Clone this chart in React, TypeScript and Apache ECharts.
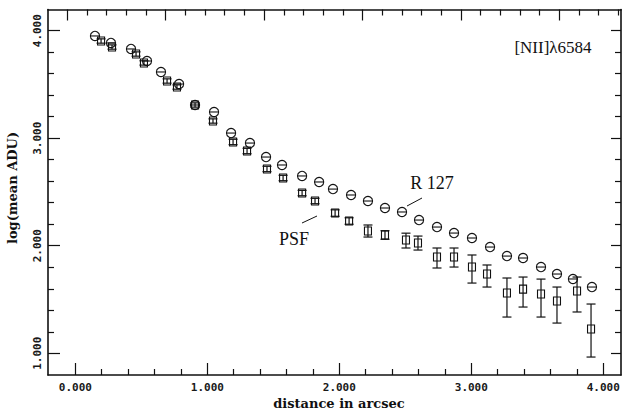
import React, { useEffect, useRef } from "react";
import * as echarts from "echarts";

// R 127 (circles)
const r127X = [0.149, 0.270, 0.422, 0.543, 0.649, 0.786, 0.907, 1.051, 1.180, 1.323, 1.445, 1.566, 1.718, 1.847, 1.952, 2.089, 2.217, 2.346, 2.475, 2.604, 2.740, 2.869, 3.005, 3.142, 3.270, 3.392, 3.528, 3.649, 3.770, 3.914];
const r127Y = [3.951, 3.886, 3.830, 3.718, 3.616, 3.504, 3.309, 3.244, 3.048, 2.955, 2.825, 2.751, 2.649, 2.593, 2.527, 2.472, 2.416, 2.351, 2.314, 2.239, 2.174, 2.118, 2.072, 1.988, 1.904, 1.886, 1.802, 1.737, 1.691, 1.616];

// PSF (squares) with error bars
const psfX = [0.195, 0.278, 0.460, 0.520, 0.695, 0.770, 0.907, 1.043, 1.195, 1.301, 1.452, 1.574, 1.718, 1.816, 1.968, 2.074, 2.217, 2.346, 2.505, 2.596, 2.740, 2.869, 3.005, 3.119, 3.270, 3.392, 3.528, 3.649, 3.801, 3.907];
const psfY = [3.904, 3.848, 3.783, 3.700, 3.532, 3.476, 3.309, 3.160, 2.965, 2.881, 2.714, 2.630, 2.490, 2.416, 2.304, 2.230, 2.137, 2.100, 2.053, 2.025, 1.895, 1.895, 1.802, 1.737, 1.560, 1.597, 1.551, 1.486, 1.579, 1.226];
const psfLow = [3.884, 3.828, 3.763, 3.680, 3.512, 3.456, 3.289, 3.140, 2.940, 2.856, 2.689, 2.605, 2.465, 2.391, 2.274, 2.200, 2.081, 2.060, 1.979, 1.960, 1.793, 1.802, 1.653, 1.616, 1.337, 1.430, 1.337, 1.281, 1.384, 0.965];
const psfHigh = [3.924, 3.868, 3.803, 3.720, 3.552, 3.496, 3.329, 3.180, 2.990, 2.906, 2.739, 2.655, 2.515, 2.441, 2.334, 2.260, 2.193, 2.140, 2.117, 2.090, 1.979, 1.979, 1.914, 1.821, 1.700, 1.709, 1.690, 1.616, 1.709, 1.458];

// Tick labels / tick positions
const xMajor = [0, 1, 2, 3, 4];
const yMajor = [1, 2, 3, 4];
const topMajor = [0, 1, 2, 3, 4, 5];

const X_MIN = -0.207, X_MAX = 4.134;
const Y_MIN = 0.798, Y_MAX = 4.197;
const T_MIN = -0.196, T_MAX = 5.627;

function minorTicks(min: number, max: number, step: number, majorStep: number) {
  const out: number[] = [];
  const start = Math.ceil(min / step);
  const end = Math.floor(max / step);
  for (let i = start; i <= end; i++) {
    const v = Math.round(i * step * 1000) / 1000;
    if (Math.abs(v / majorStep - Math.round(v / majorStep)) < 1e-6) continue;
    if (v - min < 0.02 || max - v < 0.005) continue;
    out.push(v);
  }
  return out;
}

const INK = "#111";

function axisBase(min: number, max: number) {
  return {
    type: "value",
    min,
    max,
    splitLine: { show: false },
    axisLine: { show: false, onZero: false },
    axisLabel: { show: false },
    axisTick: { show: false },
    minorTick: { show: false },
  };
}

export default function App() {
  const ref = useRef<HTMLDivElement>(null);
  useEffect(() => {
    if (!ref.current) return;
    const chart = echarts.init(ref.current, undefined, { renderer: "svg" });

    const xMinor = minorTicks(X_MIN, X_MAX, 0.2, 1);
    const yMinor = minorTicks(Y_MIN, Y_MAX, 0.2, 1);
    const tMinor = minorTicks(T_MIN, T_MAX, 0.2, 1);

    const lineStyle = { color: INK, width: 1.6 };
    const tickStyle = { color: INK, width: 1.2 };
    const labelFont = {
      fontFamily: "DejaVu Sans Mono",
      fontSize: 11,
      fontWeight: "bold",
      color: "#1a1a1a",
    };

    const option: any = {
      animation: false,
      backgroundColor: "#fff",
      grid: { left: 48, right: 2, top: 9.5, bottom: 37, containLabel: false },
      xAxis: [
        {
          ...axisBase(X_MIN, X_MAX),
          position: "bottom",
          axisLine: { show: true, onZero: false, lineStyle },
          axisTick: { show: true, inside: true, length: 12, customValues: xMajor, lineStyle: tickStyle },
          axisLabel: {
            show: true,
            customValues: xMajor,
            formatter: (v: number) => v.toFixed(3),
            margin: 7,
            ...labelFont,
          },
        },
        {
          ...axisBase(X_MIN, X_MAX),
          position: "bottom",
          axisTick: { show: true, inside: true, length: 6, customValues: xMinor, lineStyle: tickStyle },
        },
        {
          ...axisBase(T_MIN, T_MAX),
          position: "top",
          axisLine: { show: true, onZero: false, lineStyle },
          axisTick: { show: true, inside: true, length: 11, customValues: topMajor, lineStyle: tickStyle },
        },
        {
          ...axisBase(T_MIN, T_MAX),
          position: "top",
          axisTick: { show: true, inside: true, length: 6, customValues: tMinor, lineStyle: tickStyle },
        },
      ],
      yAxis: [
        {
          ...axisBase(Y_MIN, Y_MAX),
          position: "left",
          axisLine: { show: true, onZero: false, lineStyle },
          axisTick: { show: true, inside: true, length: 12, customValues: yMajor, lineStyle: tickStyle },
          axisLabel: {
            show: true,
            customValues: yMajor,
            rotate: 90,
            formatter: (v: number) => v.toFixed(3),
            margin: 5,
            ...labelFont,
          },
        },
        {
          ...axisBase(Y_MIN, Y_MAX),
          position: "left",
          axisTick: { show: true, inside: true, length: 6, customValues: yMinor, lineStyle: tickStyle },
        },
        {
          ...axisBase(Y_MIN, Y_MAX),
          position: "right",
          axisLine: { show: true, onZero: false, lineStyle },
          axisTick: { show: true, inside: true, length: 10, customValues: yMajor, lineStyle: tickStyle },
        },
        {
          ...axisBase(Y_MIN, Y_MAX),
          position: "right",
          axisTick: { show: true, inside: true, length: 6, customValues: yMinor, lineStyle: tickStyle },
        },
      ],
      series: [
        {
          name: "R 127",
          type: "custom",
          xAxisIndex: 0,
          yAxisIndex: 0,
          clip: false,
          encode: { x: 0, y: 1 },
          data: r127X.map((x, i) => [x, r127Y[i]]),
          renderItem: (_p: any, api: any) => {
            const c = api.coord([api.value(0), api.value(1)]);
            const r = 4.6;
            return {
              type: "group",
              children: [
                { type: "circle", shape: { cx: c[0], cy: c[1], r }, style: { fill: "none", stroke: INK, lineWidth: 1.1 } },
                { type: "line", shape: { x1: c[0] - r, y1: c[1], x2: c[0] + r, y2: c[1] }, style: { stroke: INK, lineWidth: 1.1 } },
              ],
            };
          },
        },
        {
          name: "PSF",
          type: "custom",
          xAxisIndex: 0,
          yAxisIndex: 0,
          clip: false,
          encode: { x: 0, y: 1 },
          data: psfX.map((x, i) => [x, psfY[i], psfLow[i], psfHigh[i]]),
          renderItem: (_p: any, api: any) => {
            const x = api.value(0);
            const c = api.coord([x, api.value(1)]);
            const lo = api.coord([x, api.value(2)]);
            const hi = api.coord([x, api.value(3)]);
            const w = 7, h = 8, cap = 4.5;
            const st = { stroke: INK, lineWidth: 1.2 };
            return {
              type: "group",
              children: [
                { type: "rect", shape: { x: c[0] - w / 2, y: c[1] - h / 2, width: w, height: h }, style: { fill: "none", stroke: INK, lineWidth: 1.1 } },
                { type: "line", shape: { x1: c[0], y1: lo[1], x2: c[0], y2: hi[1] }, style: st },
                { type: "line", shape: { x1: c[0] - cap, y1: lo[1], x2: c[0] + cap, y2: lo[1] }, style: st },
                { type: "line", shape: { x1: c[0] - cap, y1: hi[1], x2: c[0] + cap, y2: hi[1] }, style: st },
              ],
            };
          },
        },
      ],
      graphic: [
        {
          type: "text",
          x: 553,
          y: 47.5,
          style: { text: "[NII]λ6584", textAlign: "center", textVerticalAlign: "middle", fontFamily: "Liberation Serif", fontSize: 17, fill: INK },
        },
        {
          type: "text",
          x: 432,
          y: 183,
          style: { text: "R 127", textAlign: "center", textVerticalAlign: "middle", fontFamily: "Liberation Serif", fontSize: 18, fill: INK },
        },
        {
          type: "text",
          x: 294,
          y: 239,
          style: { text: "PSF", textAlign: "center", textVerticalAlign: "middle", fontFamily: "Liberation Serif", fontSize: 18, fill: INK },
        },
        { type: "line", shape: { x1: 407, y1: 206, x2: 422, y2: 198 }, style: { stroke: INK, lineWidth: 1 } },
        { type: "line", shape: { x1: 302, y1: 223, x2: 317, y2: 216 }, style: { stroke: INK, lineWidth: 1 } },
        {
          type: "text",
          x: 339,
          y: 403,
          style: { text: "distance in arcsec", textAlign: "center", textVerticalAlign: "middle", fontFamily: "DejaVu Serif", fontWeight: "bold", fontSize: 13, fill: INK },
        },
        {
          type: "text",
          x: 12.5,
          y: 188,
          rotation: Math.PI / 2,
          style: { text: "log(mean ADU)", textAlign: "center", textVerticalAlign: "middle", fontFamily: "DejaVu Serif", fontWeight: "bold", fontSize: 13, fill: INK },
        },
      ],
    };
    chart.setOption(option);
    return () => chart.dispose();
  }, []);

  return (
    <div
      ref={ref}
      style={{ position: "fixed", left: 0, top: 0, width: 623, height: 412, background: "#fff" }}
    />
  );
}
